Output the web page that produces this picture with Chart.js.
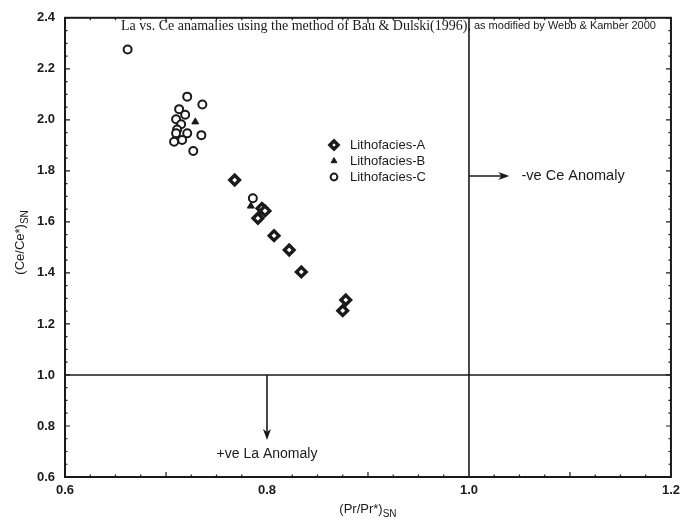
<!DOCTYPE html>
<html>
<head>
<meta charset="utf-8">
<script src="https://cdn.jsdelivr.net/npm/chart.js@4.4.1/dist/chart.umd.min.js"></script>
<style>
html, body { margin: 0; padding: 0; background: #fff; }
#wrap { width: 686px; height: 532px; }
</style>
</head>
<body>
<div id="wrap"><canvas id="chart" width="686" height="532"></canvas></div>
<script>
// (Pr/Pr*)SN on x, (Ce/Ce*)SN on y
const faciesA_pr = [0.768, 0.795, 0.798, 0.791, 0.807, 0.822, 0.834, 0.878, 0.875];
const faciesA_ce = [1.764, 1.653, 1.643, 1.614, 1.546, 1.490, 1.404, 1.294, 1.252];

const faciesB_pr = [0.729, 0.784];
const faciesB_ce = [1.992, 1.662];

const faciesC_pr = [0.662, 0.721, 0.736, 0.713, 0.719, 0.710, 0.715, 0.711, 0.710, 0.721, 0.735, 0.716, 0.708, 0.727, 0.786];
const faciesC_ce = [2.276, 2.091, 2.060, 2.042, 2.020, 2.002, 1.983, 1.962, 1.947, 1.947, 1.940, 1.921, 1.914, 1.878, 1.693];

const faciesNames = ['Lithofacies-A', 'Lithofacies-B', 'Lithofacies-C'];

const xTicks = [0.6, 0.8, 1.0, 1.2];
const yTicks = [0.6, 0.8, 1.0, 1.2, 1.4, 1.6, 1.8, 2.0, 2.2, 2.4];

// anomaly boundaries and the arrows pointing away from them (data units)
const ceBoundary = 1.0;   // Pr/Pr* = 1
const laBoundary = 1.0;   // Ce/Ce* = 1
const ceArrow = { y: 1.78, x0: 1.0, x1: 1.04, textX: 1.052 };
const laArrow = { x: 0.8, y0: 1.0, y1: 0.745, textY: 0.69 };

const titleSerif = 'La vs. Ce anamalies using the method of Bau & Dulski(1996),';
const titleSans = 'as modified by Webb & Kamber 2000';

const INK = '#1a1a1a';

const pts = (xs, ys) => xs.map((x, i) => ({ x: x, y: ys[i] }));

function drawSub(ctx, main, sub, x, y, size) {
    ctx.font = size + 'px "Liberation Sans", Arial, sans-serif';
    const w1 = ctx.measureText(main).width;
    ctx.font = (size - 3) + 'px "Liberation Sans", Arial, sans-serif';
    const w2 = ctx.measureText(sub).width;
    const start = x - (w1 + w2) / 2;
    ctx.textAlign = 'left';
    ctx.textBaseline = 'alphabetic';
    ctx.font = size + 'px "Liberation Sans", Arial, sans-serif';
    ctx.fillText(main, start, y);
    ctx.font = (size - 3) + 'px "Liberation Sans", Arial, sans-serif';
    ctx.fillText(sub, start + w1, y + 4);
}

function arrowHead(ctx, x, y, dir) {
    // dir: 'right' or 'down'
    ctx.beginPath();
    if (dir === 'right') {
        ctx.moveTo(x, y);
        ctx.lineTo(x - 11, y - 4);
        ctx.lineTo(x - 8, y);
        ctx.lineTo(x - 11, y + 4);
    } else {
        ctx.moveTo(x, y);
        ctx.lineTo(x - 4, y - 11);
        ctx.lineTo(x, y - 8);
        ctx.lineTo(x + 4, y - 11);
    }
    ctx.closePath();
    ctx.fill();
}

const decorations = {
    id: 'decorations',
    afterDatasetsDraw(chart) {
        const ctx = chart.ctx;
        const xs = chart.scales.x, ys = chart.scales.y;
        const area = chart.chartArea;
        ctx.save();
        ctx.strokeStyle = INK;
        ctx.fillStyle = INK;

        // frame
        ctx.lineWidth = 2;
        ctx.strokeRect(area.left, area.top, area.right - area.left, area.bottom - area.top);

        // inward ticks on all four sides
        ctx.lineWidth = 1.2;
        for (let i = 0; i <= 24; i++) {
            const v = 0.6 + i * 0.025;
            const px = xs.getPixelForValue(v);
            const len = i % 8 === 0 ? 0 : (i % 4 === 0 ? 5 : 2.5);
            ctx.beginPath();
            ctx.moveTo(px, area.bottom); ctx.lineTo(px, area.bottom - len);
            ctx.moveTo(px, area.top); ctx.lineTo(px, area.top + len);
            ctx.stroke();
        }
        for (let i = 0; i <= 36; i++) {
            const v = 0.6 + i * 0.05;
            const py = ys.getPixelForValue(v);
            const len = i % 4 === 0 ? 5 : 2.5;
            ctx.beginPath();
            ctx.moveTo(area.left, py); ctx.lineTo(area.left + len, py);
            ctx.moveTo(area.right, py); ctx.lineTo(area.right - len, py);
            ctx.stroke();
        }

        // arrows
        ctx.lineWidth = 1.6;
        const ay = ys.getPixelForValue(ceArrow.y);
        const ax0 = xs.getPixelForValue(ceArrow.x0), ax1 = xs.getPixelForValue(ceArrow.x1);
        ctx.beginPath(); ctx.moveTo(ax0, ay); ctx.lineTo(ax1 - 6, ay); ctx.stroke();
        arrowHead(ctx, ax1, ay, 'right');

        const bx = xs.getPixelForValue(laArrow.x);
        const by0 = ys.getPixelForValue(laArrow.y0), by1 = ys.getPixelForValue(laArrow.y1);
        ctx.beginPath(); ctx.moveTo(bx, by0); ctx.lineTo(bx, by1 - 6); ctx.stroke();
        arrowHead(ctx, bx, by1, 'down');

        // anomaly labels
        ctx.textBaseline = 'middle';
        ctx.font = '14.5px "Liberation Sans", Arial, sans-serif';
        ctx.textAlign = 'left';
        ctx.fillText('-ve Ce Anomaly', xs.getPixelForValue(ceArrow.textX), ay);
        ctx.font = '14px "Liberation Sans", Arial, sans-serif';
        ctx.textAlign = 'center';
        ctx.fillText('+ve La Anomaly', bx, ys.getPixelForValue(laArrow.textY));

        // title inside the frame
        ctx.textAlign = 'left';
        ctx.font = '14px "Liberation Serif", "Times New Roman", serif';
        ctx.fillText(titleSerif, 121, 26);
        const wSerif = ctx.measureText(titleSerif).width;
        ctx.font = '11px "Liberation Sans", Arial, sans-serif';
        ctx.fillText(titleSans, 121 + wSerif + 3, 26);

        // legend
        const legendX = 334, legendY = 145, rowH = 16;
        chart.data.datasets.slice(0, 3).forEach((ds, i) => {
            const cy = legendY + i * rowH;
            ctx.fillStyle = ds.backgroundColor;
            ctx.strokeStyle = ds.borderColor;
            ctx.lineWidth = ds.borderWidth;
            Chart.helpers.drawPoint(ctx, {
                pointStyle: ds.pointStyle,
                radius: ds.pointRadius * 0.85,
                rotation: 0,
                borderWidth: ds.borderWidth
            }, legendX, cy);
            ctx.fillStyle = INK;
            ctx.font = '13px "Liberation Sans", Arial, sans-serif';
            ctx.textAlign = 'left';
            ctx.textBaseline = 'middle';
            ctx.fillText(faciesNames[i], legendX + 16, cy);
        });

        // axis titles with subscripts
        ctx.fillStyle = INK;
        drawSub(ctx, '(Pr/Pr*)', 'SN', (area.left + area.right) / 2, 513, 13);
        ctx.save();
        ctx.translate(24, (area.top + area.bottom) / 2 - 5);
        ctx.rotate(-Math.PI / 2);
        drawSub(ctx, '(Ce/Ce*)', 'SN', 0, 0, 13);
        ctx.restore();

        ctx.restore();
    }
};

const tickFont = { family: '"Liberation Sans", Arial, sans-serif', size: 13, weight: 'bold' };

new Chart(document.getElementById('chart'), {
    type: 'scatter',
    data: {
        datasets: [
            {
                label: faciesNames[0],
                data: pts(faciesA_pr, faciesA_ce),
                pointStyle: 'rectRot',
                pointRadius: 4.8,
                backgroundColor: '#ffffff',
                borderColor: INK,
                borderWidth: 3.4
            },
            {
                label: faciesNames[1],
                data: pts(faciesB_pr, faciesB_ce),
                pointStyle: 'triangle',
                pointRadius: 4,
                backgroundColor: INK,
                borderColor: INK,
                borderWidth: 1
            },
            {
                label: faciesNames[2],
                data: pts(faciesC_pr, faciesC_ce),
                pointStyle: 'circle',
                pointRadius: 4,
                backgroundColor: '#ffffff',
                borderColor: INK,
                borderWidth: 2
            },
            {
                label: 'Ce boundary',
                data: [{ x: ceBoundary, y: 0.6 }, { x: ceBoundary, y: 2.4 }],
                showLine: true,
                pointRadius: 0,
                borderColor: INK,
                borderWidth: 1.6
            },
            {
                label: 'La boundary',
                data: [{ x: 0.6, y: laBoundary }, { x: 1.2, y: laBoundary }],
                showLine: true,
                pointRadius: 0,
                borderColor: INK,
                borderWidth: 1.6
            }
        ]
    },
    options: {
        responsive: false,
        animation: false,
        devicePixelRatio: 1,
        layout: { padding: { left: 0, right: 10, top: 13, bottom: 0 } },
        plugins: {
            legend: { display: false },
            tooltip: { enabled: false }
        },
        scales: {
            x: {
                type: 'linear',
                min: 0.6,
                max: 1.2,
                grid: { display: false, drawTicks: false },
                border: { display: false },
                afterBuildTicks: (scale) => { scale.ticks = xTicks.map(v => ({ value: v })); },
                afterFit: (scale) => { scale.height = 55; },
                ticks: {
                    autoSkip: false,
                    maxRotation: 0,
                    padding: 6,
                    color: INK,
                    font: tickFont,
                    callback: (v) => Number(v).toFixed(1)
                }
            },
            y: {
                type: 'linear',
                min: 0.6,
                max: 2.4,
                grid: { display: false, drawTicks: false },
                border: { display: false },
                afterBuildTicks: (scale) => { scale.ticks = yTicks.map(v => ({ value: v })); },
                afterFit: (scale) => { scale.width = 65; },
                ticks: {
                    autoSkip: false,
                    padding: 10,
                    color: INK,
                    font: tickFont,
                    callback: (v) => Number(v).toFixed(1)
                }
            }
        }
    },
    plugins: [decorations]
});
</script>
</body>
</html>
